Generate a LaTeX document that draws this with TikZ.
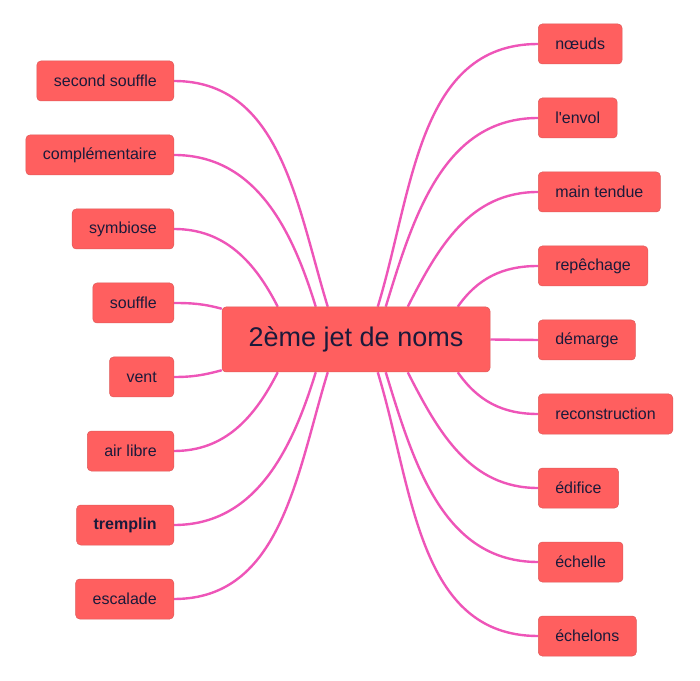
\documentclass[tikz,border=0pt]{standalone}
\usepackage{fontspec}
\setmainfont{Liberation Sans}
\usetikzlibrary{backgrounds}

\definecolor{leafred}{HTML}{FF5F5F}
\definecolor{leafedge}{HTML}{DE5A5A}
\definecolor{linkpink}{HTML}{EE55B8}
\definecolor{inkblue}{HTML}{1B1A3A}

\tikzset{
  leaf/.style={draw=leafedge, line width=0.5pt, fill=leafred, rounded corners=4pt, text=inkblue, font=\fontsize{16}{18}\selectfont, minimum height=40pt, inner xsep=17pt, inner ysep=0pt},
  root/.style={leaf, font=\fontsize{27}{30}\selectfont, minimum width=268pt, minimum height=65pt},
  link/.style={draw=linkpink, line width=2.4pt}
}

\begin{document}
\begin{tikzpicture}[x=1pt, y=1pt]
      \useasboundingbox (0,0) rectangle (700,680);

      % Central idea
      \node[root] (jet) at (356,340.5) {2ème jet de noms};

      % Left branch, anchored on the east side
      \node[leaf, anchor=east] (secondsouffle) at (174,599) {second souffle};
      \node[leaf, anchor=east] (complementaire) at (174,525) {complémentaire};
      \node[leaf, anchor=east] (symbiose) at (174,451) {symbiose};
      \node[leaf, anchor=east] (souffle) at (174,377) {souffle};
      \node[leaf, anchor=east] (vent) at (174,303) {vent};
      \node[leaf, anchor=east] (airlibre) at (174,229) {air libre};
      \node[leaf, anchor=east] (tremplin) at (174,155) {\bfseries tremplin};
      \node[leaf, anchor=east] (escalade) at (174,81) {escalade};

      % Right branch, anchored on the west side
      \node[leaf, anchor=west] (noeuds) at (538,636) {nœuds};
      \node[leaf, anchor=west] (envol) at (538,562) {l\textquotesingle envol};
      \node[leaf, anchor=west] (maintendue) at (538,488) {main tendue};
      \node[leaf, anchor=west] (repechage) at (538,414) {repêchage};
      \node[leaf, anchor=west] (demarge) at (538,340) {démarge};
      \node[leaf, anchor=west] (reconstruction) at (538,266) {reconstruction};
      \node[leaf, anchor=west] (edifice) at (538,192) {édifice};
      \node[leaf, anchor=west] (echelle) at (538,118) {échelle};
      \node[leaf, anchor=west] (echelons) at (538,44) {échelons};

      % Connectors behind the boxes
      \begin{scope}[on background layer]
        \draw[link] (secondsouffle.east) to[out=0, in=107] ([xshift=106pt]jet.north west);
        \draw[link] (complementaire.east) to[out=0, in=107] ([xshift=94pt]jet.north west);
        \draw[link] (symbiose.east) to[out=0, in=117] ([xshift=56pt]jet.north west);
        \draw[link] (souffle.east) to[out=0, in=165] ([yshift=-2pt]jet.north west);
        \draw[link] (vent.east) to[out=0, in=195] ([yshift=2pt]jet.south west);
        \draw[link] (airlibre.east) to[out=0, in=243] ([xshift=56pt]jet.south west);
        \draw[link] (tremplin.east) to[out=0, in=253] ([xshift=94pt]jet.south west);
        \draw[link] (escalade.east) to[out=0, in=253] ([xshift=106pt]jet.south west);

        \draw[link] (noeuds.west) to[out=180, in=73] ([xshift=156pt]jet.north west);
        \draw[link] (envol.west) to[out=180, in=73] ([xshift=164pt]jet.north west);
        \draw[link] (maintendue.west) to[out=180, in=63] ([xshift=186pt]jet.north west);
        \draw[link] (repechage.west) to[out=180, in=55] ([xshift=236pt]jet.north west);
        \draw[link] (demarge.west) -- (jet.east);
        \draw[link] (reconstruction.west) to[out=180, in=305] ([xshift=236pt]jet.south west);
        \draw[link] (edifice.west) to[out=180, in=297] ([xshift=186pt]jet.south west);
        \draw[link] (echelle.west) to[out=180, in=287] ([xshift=164pt]jet.south west);
        \draw[link] (echelons.west) to[out=180, in=287] ([xshift=156pt]jet.south west);
      \end{scope}
    \end{tikzpicture}
\end{document}
